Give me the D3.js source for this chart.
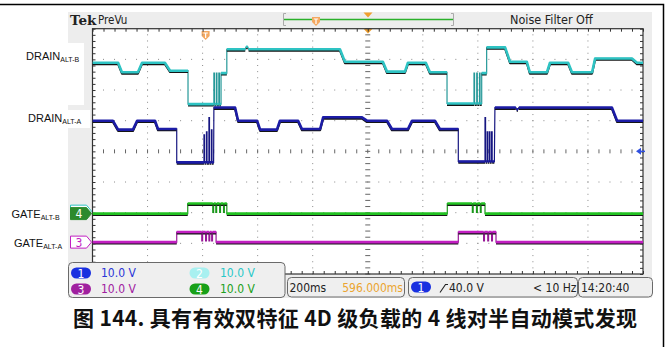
<!DOCTYPE html>
<html>
<head>
<meta charset="utf-8">
<script src="https://cdn.jsdelivr.net/npm/d3@7"></script>
<style>
body { margin: 0; background: #fff; }
svg text { font-family: "Liberation Sans Narrow", "DejaVu Sans Condensed", sans-serif; }
</style>
</head>
<body>
<svg id="chart" width="671" height="347"></svg>
<script>
// time axis: 200 ms/div, 10 divs; channels at 10 V/div
var timeDomain = [0, 2000];
var divDomain = [-4, 4];

// [time ms, volts]
var drainB = [[0,48.4],[93,48.4],[107,45.3],[165,45.3],[180,48.4],[263,48.4],[282,45.8],[347,45.8],[347,34.9],
  [441,34.9],[441,45],[443,45],[443,34.9],[450,34.9],[450,45],[452,45],[452,34.9],[459,34.9],[459,45],[461,45],
  [461,34.9],[467,34.9],[467,45],[488,45],
  [488,52.8],[555,52.8],[558,53.6],[564,53.6],[567,52.8],[899,52.8],[917,48.7],[1055,48.7],[1070,45.5],[1135,45.5],
  [1146,48.4],[1211,48.4],[1226,45.3],[1288,45.3],[1288,35.1],[1386,35.1],[1386,45],[1388,45],[1388,35.1],[1396,35.1],
  [1396,45],[1398,45],[1398,35.1],[1406,35.1],[1406,45],[1408,45],[1408,35.1],[1414,35.1],[1414,45],[1432,45],
  [1432,53.4],[1499,53.4],[1517,48.7],[1578,48.7],
  [1589,45.3],[1651,45.3],[1662,48.4],[1728,48.4],[1742,45.3],[1815,45.3],[1826,49.8],[1960,49.8],[1978,48.4],[2000,48.4]];

var drainA = [[0,50],[74,50],[93,47.1],[147,47.1],[162,50],[227,50],[238,47.3],[306,47.3],[306,36.4],
  [405,36.4],[405,45.4],[407,45.4],[407,36.4],[414,36.4],[414,46.4],[416,46.4],[416,36.4],[423,36.4],[423,51],[425,51],
  [425,36.4],[432,36.4],[432,47],[434,47],[434,36.4],[440,36.4],[441,54.3],[518,54.3],[529,50],[598,50],[609,47.1],
  [670,47.1],[681,50],[747,50],[761,47.3],[827,47.3],[838,51.1],[979,51.1],[997,50],[1070,50],[1088,47.3],[1146,47.3],
  [1161,50],[1244,50],[1262,47.3],[1329,47.3],[1329,36.7],[1426,36.7],[1426,51],[1428,51],[1428,36.7],[1434,36.7],
  [1434,46.4],[1436,46.4],[1436,36.7],[1442,36.7],[1442,46.4],[1444,46.4],[1444,36.7],[1450,36.7],[1450,46.4],
  [1452,46.4],[1452,36.7],[1460,36.7],[1462,54.3],[1538,54.3],[1541,53.7],[1546,53.7],[1549,54.3],[1887,54.3],
  [1906,50],[2000,50]];

var gateB = [[0,0],[346,0],[346,3.3],[437,3.3],[437,0.4],[440,0.4],[440,3.3],[448,3.3],[448,0.4],[451,0.4],[451,3.3],
  [462,3.3],[462,0.4],[465,0.4],[465,3.3],[476,3.3],[476,0.4],[479,0.4],[479,3.3],[488,3.3],[488,0],[1289,0],
  [1289,3.3],[1380,3.3],[1380,0.4],[1383,0.4],[1383,3.3],[1395,3.3],[1395,0.4],[1398,0.4],[1398,3.3],[1409,3.3],
  [1409,0.4],[1412,0.4],[1412,3.3],[1426,3.3],[1426,0],[2000,0]];

var gateA = [[0,0],[306,0],[306,3.3],[397,3.3],[397,0.4],[400,0.4],[400,3.3],[411,3.3],[411,0.4],[414,0.4],[414,3.3],
  [423,3.3],[423,0.4],[426,0.4],[426,3.3],[433,3.3],[433,0.4],[436,0.4],[436,3.3],[449,3.3],[449,0],[1329,0],
  [1329,3.3],[1421,3.3],[1421,0.4],[1424,0.4],[1424,3.3],[1436,3.3],[1436,0.4],[1439,0.4],[1439,3.3],[1450,3.3],
  [1450,0.4],[1453,0.4],[1453,3.3],[1466,3.3],[1466,0],[2000,0]];

var scaleLabels = ["10.0 V", "10.0 V", "10.0 V", "10.0 V"];
var timebase = "200ms", position = "596.000ms";
var trigLevel = "40.0 V", trigFreq = "< 10 Hz", clock = "14:20:40";
var caption = "图 144. 具有有效双特征 4D 级负载的 4 线对半自动模式发现";

var channels = [
  {num: "2", data: drainB, colour: "#2ec3c3", offset: -1.95},
  {num: "1", data: drainA, colour: "#1c1ca6", offset: -4},
  {num: "3", data: gateA, colour: "#c21fc2", offset: -2.96},
  {num: "4", data: gateB, colour: "#22c222", offset: -2.03}
];

var svg = d3.select("#chart");
var gx0 = 92.5, gx1 = 643, gy0 = 28.7, gy1 = 274;

var x = d3.scaleLinear().domain(timeDomain).range([gx0, gx1]);
var yDiv = d3.scaleLinear().domain(divDomain).range([gy1, gy0]);

// outer frame
svg.append("path").attr("d", "M0,4.5H663.5V347").attr("fill", "none").attr("stroke", "#000").attr("stroke-width", 1.5);

// scope panel
svg.append("rect").attr("x", 68).attr("y", 12).attr("width", 584).attr("height", 286).attr("fill", "#ededed");
svg.append("rect").attr("x", gx0).attr("y", gy0).attr("width", gx1 - gx0).attr("height", gy1 - gy0).attr("fill", "#fff");

// header
svg.append("text").attr("x", 70).attr("y", 25).text("Tek")
  .style("font-family", "'DejaVu Serif', serif").style("font-weight", "bold").style("font-size", "13.5px").attr("fill", "#222");
svg.append("text").attr("x", 98).attr("y", 24).text("PreVu").style("font-size", "11.5px").attr("fill", "#222");
svg.append("text").attr("x", 510).attr("y", 23.5).text("Noise Filter Off").style("font-size", "12.5px").attr("fill", "#222");
svg.append("path").attr("d", "M286,13.5H283.5V25.5H286M451,13.5H453.5V25.5H451").attr("fill", "none").attr("stroke", "#aaa");
svg.append("line").attr("x1", 284).attr("x2", 453).attr("y1", 19.5).attr("y2", 19.5).attr("stroke", "#2ab02a").attr("stroke-width", 1.5);
svg.append("path").attr("d", "M363.5,12.5H372.5L368,17.5Z").attr("fill", "#f0a030");
svg.append("path").attr("d", "M363.5,28.7H372.5L368,33.5Z").attr("fill", "#f0a030");

function trigMarker(cx, top) {
  svg.append("path").attr("d", "M" + (cx - 4) + "," + top + "h8v5l-4,4l-4,-4z").attr("fill", "#f4a860");
  svg.append("path").attr("d", "M" + (cx - 2.2) + "," + (top + 2) + "h4.4M" + cx + "," + (top + 2) + "v5")
    .attr("stroke", "#fff").attr("stroke-width", 1.2);
}
trigMarker(316, 17);
trigMarker(x(411), 31);

// grid dots
var grid = svg.append("g");
var vLines = d3.range(1, 10).filter(function(i) { return i !== 5; }).map(function(i) { return i * 200; });
var hLines = d3.range(-3, 4).filter(function(i) { return i !== 0; });
var yMinor = d3.range(-20, 21).map(function(k) { return k * 0.2; });
var xMinor = d3.range(0, 51).map(function(k) { return k * 40; });
vLines.forEach(function(t) {
  grid.selectAll(null).data(yMinor).enter().append("rect")
    .attr("x", x(t) - 0.5).attr("y", function(d) { return yDiv(d) - 0.5; })
    .attr("width", 1).attr("height", 1).attr("fill", "#8a8a8a");
});
hLines.forEach(function(v) {
  grid.selectAll(null).data(xMinor).enter().append("rect")
    .attr("x", function(d) { return x(d) - 0.5; }).attr("y", yDiv(v) - 0.5)
    .attr("width", 1).attr("height", 1).attr("fill", "#8a8a8a");
});
// centre lines with ticks
grid.selectAll(null).data(yMinor).enter().append("line")
  .attr("x1", x(1000) - 2.5).attr("x2", x(1000) + 2.5)
  .attr("y1", function(d) { return yDiv(d); }).attr("y2", function(d) { return yDiv(d); })
  .attr("stroke", "#666").attr("stroke-width", 1);
grid.selectAll(null).data(xMinor).enter().append("line")
  .attr("x1", function(d) { return x(d); }).attr("x2", function(d) { return x(d); })
  .attr("y1", yDiv(0) - 2).attr("y2", yDiv(0) + 2)
  .attr("stroke", "#666").attr("stroke-width", 1);

// border ticks via axes
var tickStyle = function(g) {
  g.select(".domain").remove();
  g.selectAll("line").attr("stroke", "#333");
  g.selectAll("text").remove();
};
svg.append("g").attr("transform", "translate(0," + gy0 + ")")
  .call(d3.axisTop(x).tickValues(xMinor).tickSize(-3).tickFormat("")).call(tickStyle);
svg.append("g").attr("transform", "translate(0," + gy1 + ")")
  .call(d3.axisBottom(x).tickValues(xMinor).tickSize(-3).tickFormat("")).call(tickStyle);
svg.append("g").attr("transform", "translate(" + gx0 + ",0)")
  .call(d3.axisLeft(yDiv).tickValues(yMinor).tickSize(-3).tickFormat("")).call(tickStyle);
svg.append("g").attr("transform", "translate(" + gx1 + ",0)")
  .call(d3.axisRight(yDiv).tickValues(yMinor).tickSize(-3).tickFormat("")).call(tickStyle);
svg.append("rect").attr("x", gx0).attr("y", gy0).attr("width", gx1 - gx0).attr("height", gy1 - gy0)
  .attr("fill", "none").attr("stroke", "#333").attr("stroke-width", 1.2);

// traces: thin line for fast edges, thick noisy band for slow parts
svg.append("clipPath").attr("id", "clip").append("rect")
  .attr("x", gx0).attr("y", gy0).attr("width", gx1 - gx0).attr("height", gy1 - gy0);
var traces = svg.append("g").attr("clip-path", "url(#clip)");
channels.forEach(function(ch) {
  var y = function(v) { return yDiv(ch.offset + v / 10); };
  var line = d3.line().x(function(d) { return x(d[0]); }).y(function(d) { return y(d[1]); });
  // split into runs of slow segments
  var runs = [], cur = null;
  for (var i = 1; i < ch.data.length; i++) {
    if (ch.data[i][0] - ch.data[i - 1][0] >= 5) {
      if (!cur) { cur = [ch.data[i - 1]]; runs.push(cur); }
      cur.push(ch.data[i]);
    } else {
      cur = null;
    }
  }
  var band = runs.map(line).join("");
  traces.append("path").attr("d", line(ch.data))
    .attr("fill", "none").attr("stroke", d3.color(ch.colour).darker(0.7)).attr("stroke-width", 1.2);
  traces.append("path").attr("d", band).attr("transform", "translate(0,1.4)")
    .attr("fill", "none").attr("stroke", "#151515").attr("stroke-width", 2).attr("stroke-linejoin", "round");
  traces.append("path").attr("d", band)
    .attr("fill", "none").attr("stroke", ch.colour).attr("stroke-width", 2.6).attr("stroke-linejoin", "round");
});

// trigger level arrow (ch1, 40 V)
var trigY = yDiv(-4 + 40 / 10);
svg.append("path").attr("d", "M636," + trigY + "l5,-3.5v7z").attr("fill", "#3050e0");
svg.append("line").attr("x1", 640).attr("x2", 645).attr("y1", trigY).attr("y2", trigY).attr("stroke", "#3050e0").attr("stroke-width", 1.5);

// channel ground markers
function marker(ch, fill, stroke, txt, textFill) {
  var gy = yDiv(ch.offset);
  svg.append("path").attr("d", "M70.5," + (gy - 6) + "h16l5,6l-5,6h-16z")
    .attr("fill", fill).attr("stroke", stroke).attr("stroke-width", 1);
  if (txt) {
    svg.append("text").attr("x", 79).attr("y", gy + 4.5).attr("text-anchor", "middle").text(txt)
      .style("font-size", "12px").attr("fill", textFill);
  }
}
marker(channels[0], "#fff", "#2ec3c3", null);
marker(channels[3], "#2d8a2d", "#2d8a2d", "4", "#fff");
marker(channels[2], "#fff", "#c21fc2", "3", "#c21fc2");

// left labels
svg.append("rect").attr("x", 0).attr("y", 43).attr("width", 84).attr("height", 62).attr("fill", "#fff");
svg.append("rect").attr("x", 0).attr("y", 110).attr("width", 90).attr("height", 18).attr("fill", "#fff");
var labels = [
  {main: "DRAIN", sub: "ALT-B", x: 26, y: 59.5},
  {main: "DRAIN", sub: "ALT-A", x: 28, y: 122},
  {main: "GATE", sub: "ALT-B", x: 11.5, y: 218},
  {main: "GATE", sub: "ALT-A", x: 14, y: 247}
];
labels.forEach(function(l) {
  var t = svg.append("text").attr("x", l.x).attr("y", l.y).attr("fill", "#111")
    .style("font-family", "'Liberation Sans', Arial, sans-serif").style("font-size", "11px");
  t.append("tspan").text(l.main);
  t.append("tspan").attr("dy", 2.2).style("font-size", "7px").text(l.sub);
});

// status boxes
function box(x0, y0, w, h) {
  svg.append("rect").attr("x", x0).attr("y", y0).attr("width", w).attr("height", h).attr("rx", 4)
    .attr("fill", "#efefef").attr("stroke", "#6a6a6a").attr("stroke-width", 1);
}
function pill(cx, cy, fill, txt, txtFill) {
  svg.append("rect").attr("x", cx - 10).attr("y", cy - 5.5).attr("width", 20).attr("height", 11).attr("rx", 5.5).attr("fill", fill);
  svg.append("text").attr("x", cx).attr("y", cy + 4.5).attr("text-anchor", "middle").text(txt)
    .style("font-size", "12px").attr("fill", txtFill || "#fff");
}
box(68.5, 262.5, 216.5, 35);
pill(81, 273, "#1930e0", "1");
svg.append("text").attr("x", 101).attr("y", 277).text(scaleLabels[0]).style("font-size", "12px").attr("fill", "#2a35d8");
pill(199.5, 273, "#a8f0f0", "2");
svg.append("text").attr("x", 220).attr("y", 277).text(scaleLabels[1]).style("font-size", "12px").attr("fill", "#28c8c8");
pill(81, 289, "#a0209f", "3");
svg.append("text").attr("x", 101).attr("y", 293).text(scaleLabels[2]).style("font-size", "12px").attr("fill", "#a020a0");
pill(199.5, 289, "#18a018", "4");
svg.append("text").attr("x", 220).attr("y", 293).text(scaleLabels[3]).style("font-size", "12px").attr("fill", "#20a020");

box(287.5, 277.5, 117, 19.5);
svg.append("text").attr("x", 289.5).attr("y", 292).text(timebase).style("font-size", "12px").attr("fill", "#222");
svg.append("text").attr("x", 403).attr("y", 292).attr("text-anchor", "end").text(position).style("font-size", "12px").attr("fill", "#eba530");

box(408.5, 277.5, 169, 19.5);
pill(421, 287, "#1930e0", "1");
svg.append("path").attr("d", "M440,292.5L445.5,284.5H448").attr("fill", "none").attr("stroke", "#222").attr("stroke-width", 1.1);
svg.append("text").attr("x", 449).attr("y", 292).text(trigLevel).style("font-size", "12px").attr("fill", "#222");
svg.append("text").attr("x", 576.5).attr("y", 292).attr("text-anchor", "end").text(trigFreq).style("font-size", "12px").attr("fill", "#222");

box(578.5, 277.5, 74, 19.5);
svg.append("text").attr("x", 581).attr("y", 292).text(clock).style("font-size", "12px").attr("fill", "#222");

// caption
svg.append("text").attr("x", 355).attr("y", 326).attr("text-anchor", "middle").text(caption)
  .attr("textLength", 564).attr("lengthAdjust", "spacing")
  .style("font-family", "'Noto Sans CJK SC', sans-serif").style("font-weight", "bold").style("font-size", "21px").attr("fill", "#111");
</script>
</body>
</html>
